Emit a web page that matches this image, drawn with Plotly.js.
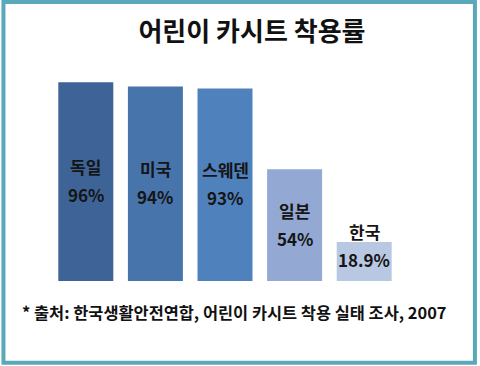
<!DOCTYPE html>
<html>
<head>
<meta charset="utf-8">
<script src="https://cdn.plot.ly/plotly-3.0.1.min.js"></script>
<style>html,body{margin:0;padding:0;background:#fff;}#chart{width:480px;height:366px;}</style>
</head>
<body>
<div id="chart"></div>
<script>
var countries = ["독일", "미국", "스웨덴", "일본", "한국"];
var rates = [96, 94, 93, 54, 18.9];
var rateLabels = ["96%", "94%", "93%", "54%", "18.9%"];
var barColors = ["#3e6396", "#4674ab", "#4f81bd", "#93a9d3", "#b9c8e2"];
var titleText = "어린이 카시트 착용률";
var sourceText = "* 출처: 한국생활안전연합, 어린이 카시트 착용 실태 조사, 2007";

var W = 480, H = 366;
var m = {l: 50.6, r: 81, t: 74.4, b: 85};
var pw = W - m.l - m.r, ph = H - m.t - m.b;
function px(x){ return (x - m.l) / pw; }
function py(y){ return (H - m.b - y) / ph; }

var font = "'Noto Sans CJK KR', 'Noto Sans', sans-serif";
var ann = [];
countries.forEach(function(c, i){
  var v = rates[i];
  var outside = v < 30;
  if (!outside) {
    ann.push({x: c, y: v/2, xref: 'x', yref: 'y', text: '<b>' + c + '</b>', showarrow: false,
      yshift: 15, font: {family: font, size: 17, color: '#151515'}});
    ann.push({x: c, y: v/2, xref: 'x', yref: 'y', text: '<b>' + rateLabels[i] + '</b>', showarrow: false,
      yshift: -13, font: {family: font, size: 17, color: '#151515'}});
  } else {
    ann.push({x: c, y: v, xref: 'x', yref: 'y', text: '<b>' + c + '</b>', showarrow: false,
      yshift: 10, font: {family: font, size: 17, color: '#151515'}});
    ann.push({x: c, y: v, xref: 'x', yref: 'y', text: '<b>' + rateLabels[i] + '</b>', showarrow: false,
      yshift: -18, font: {family: font, size: 17, color: '#151515'}});
  }
});
ann.push({xref: 'paper', yref: 'paper', x: px(20), y: py(312), xanchor: 'left', yanchor: 'middle',
  text: '<b>' + sourceText + '</b>', showarrow: false, font: {family: font, size: 16.4, color: '#111'}});

var data = [{
  type: 'bar', x: countries, y: rates,
  marker: {color: barColors, line: {width: 0}},
  hoverinfo: 'none'
}];
var layout = {
  width: W, height: H,
  margin: m,
  paper_bgcolor: '#ffffff', plot_bgcolor: 'rgba(0,0,0,0)',
  showlegend: false,
  bargap: 0.21,
  title: {text: '<b>' + titleText + '</b>', x: 252/W, xanchor: 'center', y: 1 - 32/H, yanchor: 'middle',
    font: {family: font, size: 26, color: '#111'}},
  xaxis: {visible: false, range: [-0.5, 4.5]},
  yaxis: {visible: false, range: [0, 100]},
  annotations: ann,
  shapes: [{type: 'rect', xref: 'paper', yref: 'paper', x0: px(3), x1: px(475), y0: py(362.5), y1: py(2.5),
    line: {color: '#5aa9bb', width: 4}, layer: 'above'}]
};
Plotly.newPlot('chart', data, layout, {displayModeBar: false, staticPlot: true});
</script>
</body>
</html>
